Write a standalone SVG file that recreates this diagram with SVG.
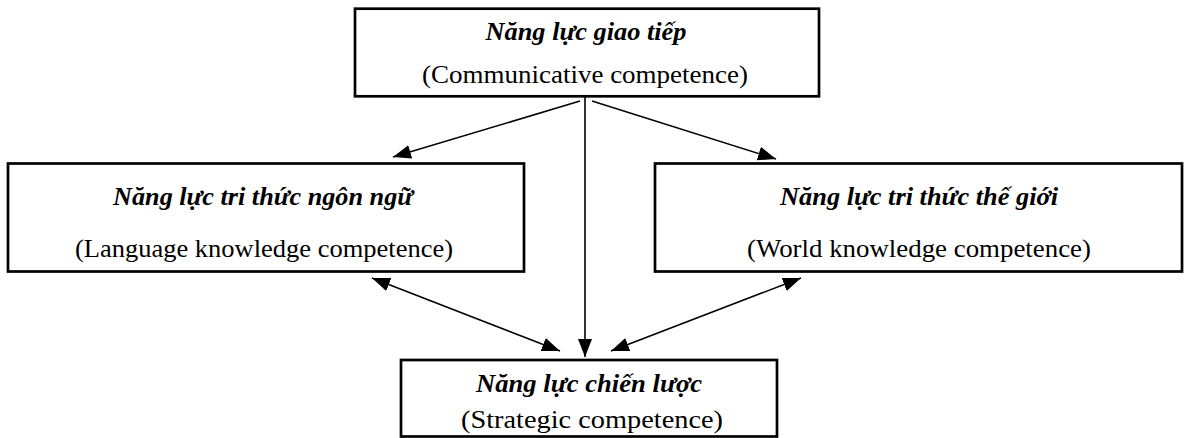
<svg xmlns="http://www.w3.org/2000/svg" width="1185" height="438" viewBox="0 0 1185 438">
<style>
.box{fill:#fff;stroke:#000;stroke-width:2.7}
.t{font-family:"Liberation Serif","Times New Roman",serif;font-size:26px;font-weight:bold;font-style:italic;text-anchor:middle;fill:#000}
.s{font-family:"Liberation Serif","Times New Roman",serif;font-size:26px;text-anchor:middle;fill:#000}
.c{fill:none;stroke:#000;stroke-width:1.6}
</style>
<defs>
<marker id="ah" markerUnits="userSpaceOnUse" markerWidth="20" markerHeight="16" refX="18" refY="7" orient="auto-start-reverse">
<path d="M0,0 L18,7 L0,14 z" fill="#000"/>
</marker>
</defs>
<rect width="1185" height="438" fill="#fff"/>
<g id="connectors">
<line class="c" x1="580" y1="101" x2="393" y2="157" marker-end="url(#ah)"/>
<line class="c" x1="592" y1="101" x2="776" y2="159" marker-end="url(#ah)"/>
<line class="c" x1="585" y1="97" x2="585" y2="357" marker-end="url(#ah)"/>
<line class="c" x1="372" y1="278" x2="560" y2="351" marker-start="url(#ah)" marker-end="url(#ah)"/>
<line class="c" x1="801" y1="278" x2="611" y2="351" marker-start="url(#ah)" marker-end="url(#ah)"/>
</g>
<g id="node-communicative">
<rect class="box" x="355" y="8.7" width="464" height="87.6"/>
<text class="t" x="586" y="39.5" textLength="201" lengthAdjust="spacingAndGlyphs">Năng lực giao tiếp</text>
<text class="s" x="585" y="82.5" textLength="326" lengthAdjust="spacingAndGlyphs">(Communicative competence)</text>
</g>
<g id="node-language">
<rect class="box" x="8" y="163.5" width="516" height="108"/>
<text class="t" x="263" y="205" textLength="300" lengthAdjust="spacingAndGlyphs">Năng lực tri thức ngôn ngữ</text>
<text class="s" x="264" y="256.5" textLength="378" lengthAdjust="spacingAndGlyphs">(Language knowledge competence)</text>
</g>
<g id="node-world">
<rect class="box" x="655" y="163.5" width="527" height="108"/>
<text class="t" x="919" y="205" textLength="278" lengthAdjust="spacingAndGlyphs">Năng lực tri thức thế giới</text>
<text class="s" x="919" y="256.5" textLength="344" lengthAdjust="spacingAndGlyphs">(World knowledge competence)</text>
</g>
<g id="node-strategic">
<rect class="box" x="401" y="360" width="376" height="76.5"/>
<text class="t" x="589" y="391.5" textLength="226" lengthAdjust="spacingAndGlyphs">Năng lực chiến lược</text>
<text class="s" x="592" y="428" textLength="262" lengthAdjust="spacingAndGlyphs">(Strategic competence)</text>
</g>
</svg>
